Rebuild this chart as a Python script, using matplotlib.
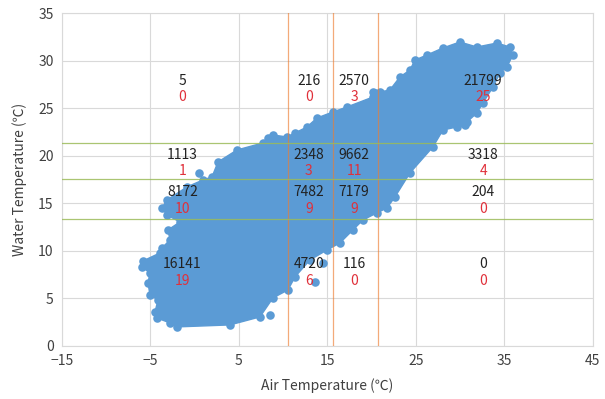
import matplotlib
matplotlib.use("Agg")
import matplotlib.pyplot as plt
from matplotlib.patches import Polygon
import numpy as np

plt.rcParams['font.family'] = ['Noto Sans CJK KR', 'DejaVu Sans']

# outline of the dense (air, water) point cloud, clockwise from lower left
cloud_air = [-4.27, -4.49, -4.15, -5.06, -5.28, -5.06, -5.96, -5.85, -3.93, -3.70,
             -2.80, -3.02, -1.67, -3.14, -3.70, -3.14, -0.88, 0.93, 1.95, 2.63,
             4.77, 7.71, 8.28, 8.84, 10.42, 11.33, 12.68, 13.81, 15.62, 17.20,
             20.14, 20.14, 20.93, 22.06, 23.19, 24.32, 24.89, 26.24, 28.05, 29.97,
             31.89, 34.15, 35.62, 35.96, 35.28, 34.49, 33.70, 32.57, 31.89, 30.76,
             29.63, 28.05, 26.92, 24.32, 22.63, 21.72, 20.59, 19.01, 17.88, 16.41,
             14.94, 13.02, 11.33, 10.54, 8.84, 7.37, 3.98, -2.01, -2.80]
cloud_water = [2.94, 3.58, 4.84, 5.36, 6.62, 7.68, 8.31, 8.94, 9.78, 10.30,
               11.15, 12.20, 13.04, 13.77, 14.51, 15.35, 16.72, 17.46, 17.77, 19.35,
               20.61, 21.35, 21.87, 22.19, 21.98, 22.40, 23.03, 23.97, 24.61, 25.13,
               26.18, 26.71, 26.71, 26.92, 28.29, 29.02, 30.07, 30.60, 31.34, 31.97,
               31.44, 31.86, 31.44, 30.60, 29.34, 28.71, 27.23, 25.55, 24.50, 23.55,
               23.03, 22.71, 20.93, 18.19, 15.67, 14.51, 13.99, 13.25, 12.20, 10.83,
               10.09, 9.04, 7.26, 5.89, 5.05, 3.05, 2.21, 2.00, 2.42]

# stray observations outside the main body
stray_air = [8.50, 13.59, 14.49, 30.31, 30.54, 0.48, 20.40]
stray_water = [3.26, 6.73, 8.73, 23.45, 23.25, 18.19, 26.60]

# class thresholds
air_cuts = [10.5, 15.65, 20.7]
water_cuts = [21.3, 17.55, 13.4]

# cell counts (black) and percentages (red)
col_x = [-1.4, 12.9, 18.0, 32.6]
row_y = [27.9, 20.1, 16.2, 8.6]
counts = [["5", "216", "2570", "21799"],
          ["1113", "2348", "9662", "3318"],
          ["8172", "7482", "7179", "204"],
          ["16141", "4720", "116", "0"]]
shares = [["0", "0", "3", "25"],
          ["1", "3", "11", "4"],
          ["10", "9", "9", "0"],
          ["19", "6", "0", "0"]]

blue = "#5B9BD5"

fig = plt.figure(figsize=(6.05, 3.99), dpi=100)
ax = fig.add_axes([0.1025, 0.133, 0.8775, 0.834])

ax.add_patch(Polygon(np.column_stack([cloud_air, cloud_water]), closed=True,
                     facecolor=blue, edgecolor=blue, lw=1, zorder=2))
ax.scatter(cloud_air, cloud_water, s=38, color=blue, lw=0, zorder=2)
ax.scatter(stray_air, stray_water, s=38, color=blue, lw=0, zorder=2)

for xc in air_cuts:
    ax.axvline(xc, color="#ED7D31", lw=0.9, alpha=0.65, zorder=3)
for yc in water_cuts:
    ax.axhline(yc, color="#9BBB59", lw=0.9, alpha=0.85, zorder=3)

for i, y in enumerate(row_y):
    for j, x in enumerate(col_x):
        ax.text(x, y, counts[i][j], ha="center", va="center", fontsize=10,
                color="#222222", zorder=4)
        ax.text(x, y - 1.75, shares[i][j], ha="center", va="center", fontsize=10,
                color="#E0303A", zorder=4)

ax.set_xlim(-15, 45)
ax.set_ylim(0, 35)
ax.set_xticks(np.arange(-15, 46, 10))
ax.set_yticks(np.arange(0, 36, 5))
ax.grid(True, color="#D9D9D9", lw=0.8, zorder=0)
ax.set_axisbelow(True)
ax.tick_params(length=0, labelsize=10, colors="#404040", pad=6)
for s in ax.spines.values():
    s.set_color("#D9D9D9")
    s.set_linewidth(0.8)

ax.set_xlabel("Air Temperature (℃)", fontsize=10, color="#404040", labelpad=7)
ax.set_ylabel("Water Temperature (℃)", fontsize=10, color="#404040", labelpad=8)

fig.savefig("out.png", dpi=100)
